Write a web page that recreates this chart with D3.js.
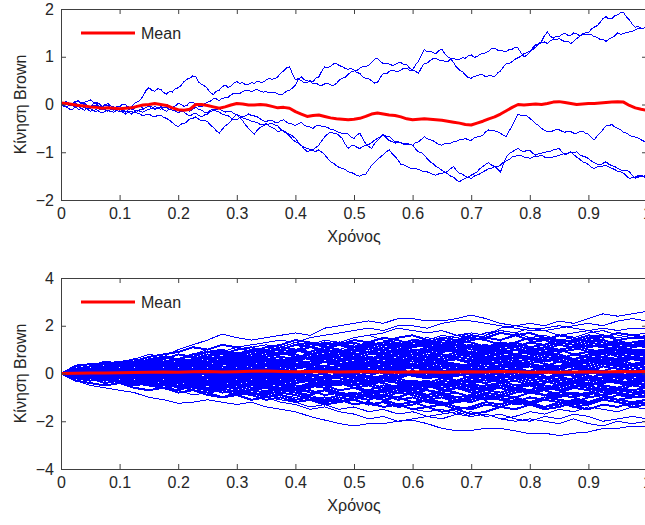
<!DOCTYPE html>
<html>
<head>
<meta charset="utf-8">
<script src="https://cdn.jsdelivr.net/npm/d3@7"></script>
<style>
  body { margin: 0; background: #fff; }
  text { font-family: "Liberation Sans", Arial, sans-serif; fill: #262626; }
</style>
</head>
<body>
<svg id="chart" width="645" height="525"></svg>
<script>
// x ticks shared by both panels
const xTicks = [0, 0.1, 0.2, 0.3, 0.4, 0.5, 0.6, 0.7, 0.8, 0.9, 1];
const xTickLabels = ["0", "0.1", "0.2", "0.3", "0.4", "0.5", "0.6", "0.7", "0.8", "0.9", "1"];
const topYTicks = [-2, -1, 0, 1, 2];
const bottomYTicks = [-4, -2, 0, 2, 4];

const topPathA = [0, 0.05, 0.06, 0.01, 0.02, 0.07, 0.08, 0.02, 0.03, -0.03, -0.04, 0.01, 0.02, -0.04, -0.06, 0.0, -0.02, -0.08, -0.1, -0.05,
  -0.05, 0.01, 0.0, -0.05, -0.06, 0.02, 0.05, 0.09, 0.18, 0.29, 0.35, 0.3, 0.28, 0.33, 0.32, 0.25, 0.22, 0.27, 0.26, 0.33,
  0.35, 0.4, 0.48, 0.53, 0.55, 0.6, 0.58, 0.47, 0.42, 0.39, 0.33, 0.25, 0.21, 0.28, 0.3, 0.37, 0.41, 0.36, 0.38, 0.45,
  0.48, 0.44, 0.46, 0.41, 0.42, 0.46, 0.44, 0.49, 0.47, 0.47, 0.51, 0.55, 0.53, 0.54, 0.58, 0.66, 0.7, 0.77, 0.79, 0.64,
  0.52, 0.54, 0.5, 0.45, 0.46, 0.5, 0.48, 0.55, 0.58, 0.7, 0.79, 0.77, 0.8, 0.85, 0.86, 0.81, 0.8, 0.75, 0.74, 0.75,
  0.72, 0.67, 0.65, 0.58, 0.55, 0.54, 0.5, 0.45, 0.46, 0.57, 0.65, 0.64, 0.69, 0.72, 0.7, 0.69, 0.72, 0.76, 0.76, 0.71,
  0.72, 0.83, 0.9, 1.04, 1.15, 1.1, 1.12, 1.08, 1.07, 1.13, 1.16, 1.06, 1.0, 0.96, 0.88, 0.78, 0.72, 0.69, 0.62, 0.56,
  0.55, 0.59, 0.6, 0.63, 0.62, 0.58, 0.6, 0.6, 0.58, 0.66, 0.7, 0.79, 0.85, 0.86, 0.9, 0.95, 0.98, 1.01, 1.07, 1.08,
  1.12, 1.15, 1.2, 1.28, 1.32, 1.44, 1.52, 1.43, 1.39, 1.43, 1.42, 1.47, 1.49, 1.45, 1.45, 1.5, 1.48, 1.44, 1.46, 1.5,
  1.5, 1.58, 1.62, 1.65, 1.72, 1.8, 1.84, 1.79, 1.8, 1.86, 1.88, 1.92, 1.93, 1.83, 1.77, 1.68, 1.62, 1.63, 1.6, 1.6,
  1.64];
const topPathB = [0, -0.04, -0.05, 0.0, 0.03, 0.03, -0.02, 0.04, 0.05, 0.06, 0.1, 0.05, 0.04, 0.02, -0.04, -0.03, 0.02, -0.03, -0.05, -0.07,
  -0.12, -0.1, -0.06, -0.04, -0.1, -0.08, -0.02, -0.03, -0.08, -0.07, -0.03, -0.05, -0.1, -0.09, -0.05, -0.01, 0.0, -0.02, -0.06, -0.03,
  0.02, 0.0, -0.04, -0.02, 0.05, 0.05, 0.0, -0.04, -0.05, 0.02, 0.05, 0.07, 0.12, 0.12, 0.08, 0.13, 0.14, 0.15, 0.2, 0.24,
  0.24, 0.23, 0.27, 0.3, 0.3, 0.27, 0.3, 0.31, 0.28, 0.26, 0.27, 0.24, 0.25, 0.25, 0.22, 0.2, 0.23, 0.28, 0.3, 0.34,
  0.41, 0.52, 0.58, 0.52, 0.5, 0.48, 0.44, 0.45, 0.41, 0.4, 0.43, 0.44, 0.41, 0.4, 0.44, 0.51, 0.55, 0.57, 0.63, 0.68,
  0.7, 0.71, 0.76, 0.8, 0.79, 0.82, 0.88, 0.95, 0.97, 0.9, 0.86, 0.87, 0.85, 0.82, 0.83, 0.87, 0.88, 0.83, 0.84, 0.76,
  0.72, 0.7, 0.65, 0.77, 0.86, 0.87, 0.92, 0.96, 0.97, 0.93, 0.93, 0.9, 0.9, 0.95, 0.97, 0.94, 0.95, 0.98, 0.97, 1.02,
  1.04, 0.99, 1.0, 1.05, 1.07, 1.08, 1.12, 1.17, 1.18, 1.14, 1.14, 1.12, 1.11, 1.15, 1.16, 1.2, 1.18, 1.08, 1.0, 1.03,
  1.1, 1.19, 1.25, 1.26, 1.3, 1.31, 1.28, 1.33, 1.36, 1.35, 1.39, 1.34, 1.32, 1.32, 1.28, 1.32, 1.38, 1.42, 1.49, 1.47,
  1.47, 1.46, 1.42, 1.41, 1.36, 1.37, 1.32, 1.37, 1.4, 1.44, 1.5, 1.47, 1.48, 1.51, 1.52, 1.53, 1.56, 1.59, 1.6, 1.6,
  1.63];
const topPathC = [0, -0.01, -0.06, -0.1, -0.1, -0.05, -0.04, -0.09, -0.12, -0.08, -0.08, -0.13, -0.15, -0.11, -0.1, -0.09, -0.05, -0.1, -0.12, -0.09,
  -0.08, -0.12, -0.14, -0.15, -0.2, -0.15, -0.12, -0.15, -0.16, -0.12, -0.1, -0.08, -0.04, -0.08, -0.1, -0.06, -0.06, -0.1, -0.12, -0.13,
  -0.18, -0.13, -0.1, -0.13, -0.14, -0.09, -0.06, -0.1, -0.12, -0.16, -0.18, -0.12, -0.1, -0.14, -0.16, -0.2, -0.22, -0.23, -0.28, -0.31,
  -0.32, -0.27, -0.25, -0.24, -0.2, -0.23, -0.24, -0.26, -0.3, -0.34, -0.36, -0.33, -0.33, -0.37, -0.38, -0.34, -0.32, -0.37, -0.4, -0.41,
  -0.44, -0.4, -0.38, -0.43, -0.46, -0.47, -0.5, -0.45, -0.43, -0.46, -0.46, -0.48, -0.52, -0.53, -0.56, -0.59, -0.6, -0.6, -0.62, -0.68,
  -0.71, -0.64, -0.6, -0.72, -0.82, -0.88, -0.92, -0.82, -0.75, -0.69, -0.62, -0.7, -0.76, -0.77, -0.81, -0.79, -0.8, -0.83, -0.84, -0.83,
  -0.85, -0.8, -0.78, -0.73, -0.67, -0.72, -0.74, -0.76, -0.8, -0.84, -0.85, -0.82, -0.82, -0.81, -0.78, -0.77, -0.74, -0.74, -0.71, -0.74,
  -0.75, -0.7, -0.68, -0.67, -0.64, -0.57, -0.53, -0.55, -0.55, -0.57, -0.6, -0.65, -0.67, -0.55, -0.45, -0.31, -0.2, -0.23, -0.22, -0.24,
  -0.29, -0.34, -0.4, -0.44, -0.5, -0.54, -0.57, -0.57, -0.55, -0.52, -0.53, -0.56, -0.58, -0.56, -0.57, -0.6, -0.6, -0.57, -0.56, -0.6,
  -0.62, -0.69, -0.74, -0.66, -0.6, -0.52, -0.45, -0.44, -0.42, -0.47, -0.5, -0.53, -0.58, -0.6, -0.64, -0.67, -0.68, -0.7, -0.74, -0.77,
  -0.81];
const topPathD = [0, 0.03, 0.04, 0.0, -0.03, -0.05, -0.1, -0.09, -0.06, -0.1, -0.14, -0.13, -0.1, -0.15, -0.18, -0.14, -0.12, -0.15, -0.16, -0.12,
  -0.1, -0.14, -0.16, -0.11, -0.08, -0.12, -0.14, -0.11, -0.1, -0.06, -0.04, -0.08, -0.1, -0.07, -0.06, -0.11, -0.14, -0.1, -0.08, -0.1,
  -0.1, -0.14, -0.16, -0.21, -0.24, -0.2, -0.18, -0.23, -0.26, -0.22, -0.2, -0.15, -0.12, -0.11, -0.08, -0.13, -0.16, -0.14, -0.14, -0.19,
  -0.22, -0.24, -0.28, -0.3, -0.32, -0.35, -0.36, -0.38, -0.42, -0.41, -0.43, -0.41, -0.4, -0.43, -0.45, -0.52, -0.57, -0.6, -0.66, -0.73,
  -0.78, -0.81, -0.86, -0.9, -0.92, -0.94, -0.95, -0.9, -0.85, -0.76, -0.68, -0.62, -0.58, -0.6, -0.6, -0.66, -0.71, -0.83, -0.92, -0.87,
  -0.85, -0.9, -0.92, -0.88, -0.86, -0.84, -0.8, -0.75, -0.71, -0.68, -0.64, -0.66, -0.66, -0.73, -0.78, -0.78, -0.8, -0.82, -0.82, -0.83,
  -0.85, -0.93, -0.99, -1.01, -1.06, -1.14, -1.2, -1.24, -1.3, -1.33, -1.38, -1.42, -1.45, -1.5, -1.52, -1.58, -1.62, -1.57, -1.55, -1.52,
  -1.48, -1.45, -1.41, -1.34, -1.3, -1.25, -1.22, -1.27, -1.3, -1.35, -1.41, -1.25, -1.1, -1.03, -0.99, -0.95, -0.92, -0.97, -0.99, -0.96,
  -0.96, -1.02, -1.06, -1.03, -1.02, -1.0, -0.99, -0.98, -0.95, -0.94, -0.92, -1.0, -1.06, -1.02, -1.0, -1.01, -0.99, -1.05, -1.08, -1.1,
  -1.13, -1.18, -1.22, -1.25, -1.27, -1.23, -1.2, -1.25, -1.28, -1.3, -1.34, -1.37, -1.38, -1.38, -1.41, -1.49, -1.55, -1.52, -1.5, -1.5,
  -1.48];
const topPathE = [0, -0.03, -0.04, -0.02, 0.02, 0.05, 0.06, 0.02, 0.0, -0.04, -0.06, -0.02, -0.02, -0.06, -0.08, -0.1, -0.14, -0.1, -0.08, -0.13,
  -0.15, -0.16, -0.2, -0.16, -0.14, -0.17, -0.18, -0.2, -0.24, -0.21, -0.2, -0.24, -0.26, -0.23, -0.22, -0.27, -0.29, -0.33, -0.38, -0.43,
  -0.46, -0.41, -0.4, -0.36, -0.3, -0.29, -0.26, -0.31, -0.34, -0.33, -0.36, -0.43, -0.48, -0.55, -0.6, -0.52, -0.45, -0.41, -0.35, -0.26,
  -0.2, -0.28, -0.34, -0.43, -0.5, -0.57, -0.62, -0.54, -0.48, -0.45, -0.4, -0.45, -0.48, -0.51, -0.57, -0.55, -0.55, -0.59, -0.62, -0.66,
  -0.71, -0.79, -0.85, -0.93, -0.99, -0.96, -0.97, -0.98, -0.95, -1.0, -1.05, -1.13, -1.2, -1.23, -1.28, -1.32, -1.34, -1.36, -1.41, -1.42,
  -1.45, -1.49, -1.5, -1.47, -1.46, -1.37, -1.27, -1.22, -1.15, -1.1, -1.05, -0.99, -0.95, -1.03, -1.09, -1.16, -1.25, -1.26, -1.3, -1.33,
  -1.34, -1.34, -1.36, -1.39, -1.41, -1.41, -1.44, -1.47, -1.48, -1.45, -1.44, -1.43, -1.4, -1.34, -1.3, -1.38, -1.44, -1.46, -1.5, -1.53,
  -1.55, -1.5, -1.48, -1.45, -1.41, -1.38, -1.34, -1.33, -1.3, -1.3, -1.27, -1.21, -1.18, -1.15, -1.1, -1.09, -1.06, -1.07, -1.1, -1.1,
  -1.13, -1.1, -1.08, -1.08, -1.06, -1.1, -1.12, -1.1, -1.1, -1.09, -1.06, -1.05, -1.02, -1.02, -0.99, -1.05, -1.1, -1.14, -1.2, -1.22,
  -1.26, -1.31, -1.34, -1.31, -1.3, -1.29, -1.27, -1.31, -1.34, -1.36, -1.4, -1.41, -1.44, -1.5, -1.55, -1.53, -1.52, -1.49, -1.48, -1.52,
  -1.55];
// mean of the top panel, sampled every 0.01
const topMean = [0.03, 0.02, 0.0, -0.02, -0.03, -0.05, -0.06, -0.08, -0.07, -0.08,
  -0.09, -0.08, -0.07, -0.04, -0.01, 0.0, 0.02, 0.0, -0.02, -0.07,
  -0.11, -0.12, -0.1, 0.0, 0.0, -0.02, -0.05, -0.08, -0.05, -0.01,
  0.02, 0.01, -0.01, -0.01, 0.0, -0.01, -0.04, -0.07, -0.06, -0.08,
  -0.15, -0.2, -0.25, -0.23, -0.22, -0.25, -0.28, -0.3, -0.31, -0.32,
  -0.31, -0.29, -0.25, -0.2, -0.18, -0.2, -0.22, -0.23, -0.26, -0.3,
  -0.32, -0.31, -0.3, -0.31, -0.32, -0.33, -0.35, -0.37, -0.39, -0.42,
  -0.43, -0.39, -0.35, -0.3, -0.26, -0.2, -0.13, -0.06, 0.0, -0.01,
  0.0, 0.01, 0.0, 0.02, 0.05, 0.06, 0.04, 0.02, 0.0, 0.01,
  0.02, 0.02, 0.03, 0.04, 0.05, 0.06, 0.05, -0.02, -0.07, -0.1,
  -0.12];

// bottom panel: many paths, sampled every 0.025
const bottomPaths = [
  [0, 0.1, 0.2, 0.1, 0.3, 0.2, 0.4, 0.3, 0.5, 0.6, 0.8, 0.7, 0.6, 0.8, 0.9, 0.8, 1.0, 1.1, 0.9, 1.0, 1.2, 1.1, 1.3, 1.2, 1.4, 1.5, 1.4, 1.6, 1.7, 1.6, 1.9, 2.0, 2.1, 2.0, 2.2, 2.1, 2.3, 2.5, 2.4, 2.5, 2.6],
  [0, 0.35, 0.4, 0.3, 0.5, 0.6, 0.8, 0.7, 1.0, 1.2, 1.4, 1.65, 1.5, 1.4, 1.5, 1.6, 1.7, 1.6, 1.9, 2.0, 2.1, 2.2, 2.1, 2.3, 2.3, 2.2, 2.2, 2.3, 2.45, 2.3, 2.1, 2.0, 1.9, 1.9, 2.0, 1.9, 1.8, 1.9, 1.8, 1.9, 1.9],
  [0, -0.1, 0.1, 0.2, 0.3, 0.4, 0.6, 0.7, 0.6, 0.8, 1.0, 0.9, 1.1, 1.2, 1.3, 1.4, 1.3, 1.5, 1.6, 1.7, 1.8, 1.9, 1.8, 2.0, 2.0, 1.9, 2.1, 2.2, 2.2, 2.1, 2.0, 1.9, 1.8, 1.8, 1.9, 2.0, 2.1, 2.0, 2.2, 2.3, 2.2],
  [0, 0.1, 0.0, 0.2, 0.1, 0.3, 0.2, 0.4, 0.5, 0.4, 0.6, 0.7, 0.9, 0.8, 1.0, 1.1, 1.0, 1.2, 1.4, 1.3, 1.5, 1.6, 1.7, 1.9, 1.8, 1.7, 1.8, 1.6, 1.5, 1.7, 1.8, 1.7, 1.9, 1.8, 1.6, 1.7, 1.8, 1.6, 1.5, 1.6, 1.7],
  [0, 0.2, 0.3, 0.5, 0.4, 0.6, 0.5, 0.7, 0.6, 0.8, 0.9, 0.8, 0.7, 0.9, 1.1, 1.2, 1.4, 1.3, 1.2, 1.3, 1.1, 1.2, 1.3, 1.5, 1.6, 1.4, 1.3, 1.2, 1.4, 1.5, 1.4, 1.6, 1.7, 1.5, 1.4, 1.3, 1.5, 1.6, 1.4, 1.5, 1.5],
  [0, -0.1, 0.0, 0.1, 0.0, 0.2, 0.1, 0.3, 0.2, 0.1, 0.3, 0.4, 0.3, 0.5, 0.6, 0.5, 0.7, 0.8, 0.7, 0.9, 1.0, 0.9, 1.1, 1.0, 1.2, 1.3, 1.2, 1.4, 1.3, 1.1, 1.2, 1.3, 1.5, 1.4, 1.6, 1.5, 1.3, 1.4, 1.2, 1.3, 1.4],
  [0, 0.1, 0.3, 0.2, 0.4, 0.5, 0.7, 0.8, 0.9, 1.1, 1.0, 1.2, 1.1, 0.9, 1.0, 0.8, 0.9, 1.1, 1.0, 1.2, 1.3, 1.1, 1.0, 0.9, 1.1, 1.2, 1.0, 0.9, 1.1, 1.0, 1.2, 1.1, 1.3, 1.4, 1.2, 1.1, 1.3, 1.2, 1.4, 1.2, 1.3],
  [0, 0.1, 0.0, -0.1, 0.0, -0.2, -0.1, 0.1, 0.2, 0.1, 0.3, 0.2, 0.4, 0.5, 0.4, 0.6, 0.5, 0.7, 0.6, 0.8, 0.7, 0.9, 0.8, 1.0, 0.9, 1.1, 1.0, 0.9, 0.8, 1.0, 1.1, 1.2, 1.0, 1.1, 1.3, 1.2, 1.4, 1.3, 1.1, 1.2, 1.2],
  [0, 0.1, 0.2, 0.4, 0.3, 0.2, 0.4, 0.3, 0.5, 0.6, 0.5, 0.7, 0.8, 0.6, 0.7, 0.9, 0.8, 0.6, 0.7, 0.5, 0.6, 0.8, 0.9, 0.7, 0.8, 1.0, 0.9, 1.1, 1.2, 1.0, 0.9, 0.8, 1.0, 1.1, 0.9, 1.0, 1.2, 1.1, 1.0, 1.2, 1.1],
  [0, -0.1, -0.2, -0.1, 0.0, 0.2, 0.1, 0.0, 0.2, 0.3, 0.5, 0.4, 0.3, 0.1, 0.2, 0.4, 0.3, 0.5, 0.6, 0.4, 0.5, 0.7, 0.6, 0.8, 0.7, 0.5, 0.6, 0.8, 0.9, 0.7, 0.8, 1.0, 0.9, 0.8, 1.0, 1.1, 0.9, 0.8, 1.0, 0.9, 1.0],
  [0, 0.1, 0.0, 0.2, 0.3, 0.1, 0.2, 0.0, 0.1, -0.1, 0.0, 0.2, 0.3, 0.4, 0.6, 0.7, 0.6, 0.8, 0.9, 1.0, 0.8, 0.9, 0.7, 0.6, 0.8, 0.7, 0.9, 1.0, 1.1, 0.9, 0.8, 0.6, 0.7, 0.9, 1.0, 0.8, 0.7, 0.9, 1.0, 0.8, 0.9],
  [0, 0.2, 0.1, 0.3, 0.5, 0.4, 0.6, 0.5, 0.3, 0.4, 0.2, 0.3, 0.1, 0.2, 0.4, 0.5, 0.7, 0.6, 0.8, 0.7, 0.9, 1.1, 1.0, 1.2, 1.1, 1.3, 1.2, 1.0, 0.9, 1.1, 1.0, 0.8, 0.7, 0.9, 0.8, 0.6, 0.7, 0.9, 0.8, 0.7, 0.8],
  [0, -0.1, 0.0, -0.2, -0.1, -0.3, -0.2, -0.1, 0.1, 0.0, 0.2, 0.1, 0.3, 0.2, 0.4, 0.3, 0.2, 0.4, 0.5, 0.3, 0.4, 0.6, 0.5, 0.4, 0.6, 0.7, 0.5, 0.6, 0.4, 0.5, 0.7, 0.8, 0.6, 0.5, 0.7, 0.6, 0.8, 0.9, 0.7, 0.6, 0.7],
  [0, 0.1, 0.2, 0.1, 0.3, 0.2, 0.0, 0.1, -0.1, 0.0, 0.1, 0.3, 0.2, 0.4, 0.3, 0.5, 0.4, 0.2, 0.3, 0.1, 0.2, 0.0, 0.1, 0.3, 0.2, 0.4, 0.5, 0.3, 0.4, 0.6, 0.5, 0.7, 0.6, 0.8, 0.7, 0.5, 0.4, 0.6, 0.5, 0.7, 0.6],
  [0, 0.0, -0.1, 0.1, 0.0, 0.2, 0.3, 0.2, 0.4, 0.6, 0.5, 0.7, 0.6, 0.8, 0.9, 0.7, 0.6, 0.8, 0.7, 0.5, 0.6, 0.4, 0.3, 0.5, 0.4, 0.2, 0.3, 0.1, 0.2, 0.4, 0.3, 0.5, 0.6, 0.4, 0.3, 0.5, 0.6, 0.4, 0.5, 0.6, 0.5],
  [0, -0.1, -0.3, -0.2, -0.4, -0.3, -0.1, -0.2, 0.0, -0.1, 0.1, 0.0, -0.2, -0.1, 0.1, 0.2, 0.0, 0.1, 0.3, 0.2, 0.4, 0.3, 0.5, 0.4, 0.2, 0.3, 0.1, 0.2, 0.0, 0.1, 0.3, 0.2, 0.4, 0.3, 0.5, 0.4, 0.6, 0.5, 0.3, 0.4, 0.4],
  [0, 0.1, 0.3, 0.4, 0.2, 0.3, 0.1, 0.2, 0.4, 0.3, 0.1, 0.0, 0.2, 0.1, -0.1, 0.0, 0.2, 0.3, 0.1, 0.2, 0.0, -0.1, 0.1, 0.2, 0.4, 0.3, 0.5, 0.4, 0.2, 0.1, 0.3, 0.2, 0.0, 0.1, 0.3, 0.4, 0.2, 0.1, 0.3, 0.2, 0.3],
  [0, 0.1, 0.0, -0.1, 0.1, 0.0, -0.2, -0.3, -0.1, -0.2, -0.4, -0.3, -0.5, -0.4, -0.2, -0.3, -0.1, 0.0, -0.2, -0.1, 0.1, 0.0, 0.2, 0.1, 0.3, 0.5, 0.4, 0.2, 0.3, 0.1, 0.0, 0.2, 0.1, 0.3, 0.2, 0.0, 0.1, 0.3, 0.2, 0.1, 0.2],
  [0, 0.3, 0.4, 0.4, 0.5, 0.4, 0.6, 0.7, 0.5, 0.6, 0.8, 0.7, 0.5, 0.6, 0.4, 0.5, 0.3, 0.4, 0.2, 0.3, 0.1, 0.2, 0.0, -0.1, 0.1, 0.0, -0.2, -0.1, 0.1, 0.0, 0.2, 0.1, -0.1, 0.0, 0.2, 0.3, 0.1, 0.0, -0.1, 0.0, 0.1],
  [0, -0.1, 0.0, -0.2, -0.1, 0.1, 0.0, 0.2, 0.1, 0.3, 0.2, 0.0, 0.1, -0.1, -0.3, -0.2, -0.4, -0.3, -0.5, -0.4, -0.2, -0.3, -0.1, -0.2, 0.0, -0.1, 0.1, 0.0, -0.2, -0.1, -0.3, -0.2, 0.0, 0.1, -0.1, 0.0, 0.2, 0.1, -0.1, 0.0, 0.0],
  [0, 0.1, 0.2, 0.1, 0.3, 0.2, 0.4, 0.3, 0.1, 0.2, 0.0, 0.1, -0.1, 0.0, 0.2, 0.1, 0.3, 0.4, 0.6, 0.5, 0.7, 0.6, 0.4, 0.5, 0.3, 0.2, 0.4, 0.3, 0.1, 0.0, 0.2, 0.1, -0.1, -0.2, 0.0, -0.1, -0.3, -0.2, 0.0, -0.1, -0.1],
  [0, -0.1, -0.2, -0.1, -0.3, -0.2, -0.4, -0.5, -0.3, -0.4, -0.2, -0.3, -0.1, -0.2, -0.4, -0.5, -0.7, -0.6, -0.4, -0.5, -0.3, -0.4, -0.6, -0.5, -0.7, -0.6, -0.4, -0.5, -0.3, -0.4, -0.2, -0.1, -0.3, -0.2, -0.4, -0.3, -0.1, -0.2, -0.3, -0.1, -0.2],
  [0, 0.0, 0.1, 0.0, -0.1, 0.0, 0.2, 0.1, 0.3, 0.2, 0.4, 0.3, 0.1, 0.0, -0.2, -0.1, 0.0, -0.2, -0.3, -0.1, -0.2, -0.4, -0.3, -0.1, 0.0, -0.2, -0.1, -0.3, -0.4, -0.2, -0.3, -0.5, -0.4, -0.6, -0.5, -0.3, -0.4, -0.2, -0.3, -0.4, -0.3],
  [0, -0.1, 0.0, -0.2, -0.1, -0.3, -0.2, 0.0, -0.1, 0.1, 0.0, 0.2, 0.1, 0.3, 0.2, 0.0, -0.1, 0.1, 0.0, -0.2, -0.3, -0.1, -0.2, -0.4, -0.3, -0.5, -0.6, -0.4, -0.5, -0.7, -0.6, -0.8, -0.7, -0.5, -0.6, -0.4, -0.5, -0.3, -0.4, -0.5, -0.4],
  [0, -0.2, -0.3, -0.2, -0.4, -0.5, -0.4, -0.6, -0.7, -0.5, -0.6, -0.8, -0.7, -0.9, -0.8, -0.6, -0.7, -0.5, -0.6, -0.4, -0.5, -0.3, -0.4, -0.6, -0.5, -0.7, -0.8, -0.6, -0.7, -0.5, -0.4, -0.6, -0.5, -0.7, -0.6, -0.4, -0.5, -0.7, -0.6, -0.4, -0.5],
  [0, 0.1, 0.0, 0.2, 0.1, -0.1, 0.0, -0.2, -0.1, -0.3, -0.2, -0.4, -0.3, -0.5, -0.4, -0.2, -0.3, -0.1, -0.2, 0.0, -0.1, -0.3, -0.2, -0.4, -0.3, -0.5, -0.4, -0.6, -0.5, -0.7, -0.8, -0.6, -0.7, -0.9, -0.8, -0.6, -0.7, -0.5, -0.6, -0.7, -0.6],
  [0, -0.1, -0.3, -0.2, -0.4, -0.3, -0.5, -0.4, -0.6, -0.5, -0.3, -0.4, -0.2, -0.3, -0.1, -0.2, -0.4, -0.3, -0.5, -0.7, -0.6, -0.8, -0.9, -0.7, -0.8, -1.0, -0.9, -1.1, -1.0, -0.8, -0.9, -0.7, -0.8, -0.6, -0.7, -0.9, -0.8, -0.6, -0.7, -0.8, -0.7],
  [0, 0.1, -0.1, 0.0, -0.2, -0.1, -0.3, -0.2, -0.1, -0.3, -0.4, -0.6, -0.5, -0.7, -0.6, -0.8, -0.9, -1.1, -1.0, -1.2, -1.1, -0.9, -1.0, -0.8, -0.9, -1.1, -1.0, -1.2, -1.1, -0.9, -1.0, -0.8, -0.7, -0.9, -1.0, -0.8, -0.9, -0.7, -0.8, -0.9, -0.8],
  [0, -0.1, 0.0, -0.1, 0.1, 0.0, 0.1, -0.1, -0.2, -0.1, -0.3, -0.2, -0.4, -0.3, -0.5, -0.4, -0.6, -0.5, -0.3, -0.4, -0.6, -0.7, -0.5, -0.6, -0.8, -0.7, -0.9, -0.8, -1.0, -1.1, -0.9, -1.0, -1.2, -1.1, -0.9, -1.0, -0.8, -0.9, -1.1, -1.0, -0.9],
  [0, -0.3, -0.4, -0.5, -0.4, -0.6, -0.7, -0.6, -0.8, -0.7, -0.9, -1.0, -0.8, -0.9, -1.1, -1.0, -1.2, -1.1, -1.3, -1.2, -1.0, -1.1, -0.9, -1.0, -1.2, -1.1, -1.3, -1.2, -1.0, -0.9, -1.1, -1.2, -1.0, -1.1, -0.9, -1.0, -1.2, -1.1, -0.9, -1.0, -1.0],
  [0, 0.0, -0.1, -0.2, -0.1, -0.3, -0.2, -0.4, -0.3, -0.5, -0.4, -0.6, -0.5, -0.4, -0.6, -0.7, -0.6, -0.8, -0.7, -0.9, -0.8, -1.0, -1.1, -1.3, -1.2, -1.4, -1.3, -1.5, -1.4, -1.2, -1.3, -1.1, -1.2, -1.0, -1.1, -1.3, -1.2, -1.0, -1.1, -1.2, -1.1],
  [0, -0.1, -0.2, -0.4, -0.3, -0.5, -0.4, -0.6, -0.5, -0.7, -0.8, -0.7, -0.9, -0.8, -1.0, -0.9, -1.1, -1.0, -1.2, -1.1, -1.3, -1.2, -1.4, -1.3, -1.5, -1.4, -1.6, -1.5, -1.7, -1.6, -1.4, -1.5, -1.3, -1.4, -1.2, -1.4, -1.5, -1.3, -1.4, -1.2, -1.3],
  [0, -0.1, 0.0, -0.2, -0.3, -0.2, -0.4, -0.3, -0.5, -0.4, -0.6, -0.5, -0.7, -0.8, -1.0, -1.1, -1.2, -1.4, -1.3, -1.5, -1.4, -1.6, -1.5, -1.7, -1.6, -1.8, -1.7, -1.6, -1.8, -1.7, -1.9, -1.8, -1.6, -1.7, -1.5, -1.6, -1.4, -1.5, -1.6, -1.4, -1.5],
  [0, -0.1, -0.3, -0.2, -0.4, -0.5, -0.4, -0.6, -0.7, -0.9, -0.8, -1.0, -0.9, -1.1, -1.0, -1.2, -1.3, -1.5, -1.4, -1.6, -1.7, -1.9, -1.8, -2.0, -1.9, -1.8, -1.9, -1.7, -1.8, -1.7, -1.9, -2.0, -1.9, -2.0, -2.1, -1.9, -2.1, -2.2, -2.0, -2.1, -2.0],
  [0, -0.3, -0.5, -0.6, -0.7, -0.8, -1.0, -1.1, -1.25, -1.2, -1.1, -1.2, -1.3, -1.2, -1.4, -1.5, -1.6, -1.8, -1.95, -2.1, -2.2, -2.1, -2.1, -2.0, -1.96, -2.1, -2.3, -2.4, -2.38, -2.3, -2.3, -2.4, -2.52, -2.5, -2.6, -2.5, -2.45, -2.3, -2.3, -2.2, -2.2],
  [0, 0.1, 0.0, -0.1, -0.3, -0.2, -0.4, -0.5, -0.4, -0.6, -0.5, -0.7, -0.6, -0.8, -0.7, -0.9, -1.0, -0.9, -1.1, -1.2, -1.1, -1.3, -1.4, -1.3, -1.5, -1.6, -1.5, -1.7, -1.6, -1.8, -1.7, -1.9, -2.0, -1.8, -1.9, -1.7, -1.8, -2.0, -1.9, -1.8, -1.9],
  [0, 0.1, 0.2, 0.3, 0.2, 0.4, 0.5, 0.3, 0.4, 0.6, 0.7, 0.9, 0.8, 1.0, 0.9, 1.1, 1.0, 0.8, 0.9, 0.7, 0.8, 0.6, 0.7, 0.5, 0.6, 0.4, 0.5, 0.3, 0.4, 0.2, 0.3, 0.5, 0.4, 0.6, 0.5, 0.3, 0.2, 0.4, 0.3, 0.2, 0.3],
  [0, -0.1, 0.0, 0.1, 0.0, -0.1, -0.2, -0.1, -0.3, -0.2, -0.4, -0.3, -0.2, 0.0, -0.1, 0.1, 0.0, 0.2, 0.1, 0.0, -0.2, -0.1, -0.3, -0.2, -0.4, -0.3, -0.5, -0.4, -0.2, -0.3, -0.1, -0.2, -0.4, -0.3, -0.5, -0.4, -0.2, -0.3, -0.1, -0.2, -0.3],
  [0, 0.1, -0.1, 0.0, 0.1, 0.3, 0.2, 0.4, 0.3, 0.5, 0.4, 0.6, 0.5, 0.7, 0.6, 0.5, 0.3, 0.4, 0.2, 0.3, 0.5, 0.4, 0.6, 0.5, 0.7, 0.9, 0.8, 0.7, 0.9, 0.8, 1.0, 1.1, 0.9, 1.0, 1.2, 1.1, 0.9, 1.0, 1.1, 0.9, 1.0],
  [0, 0.0, -0.2, -0.1, -0.2, -0.4, -0.3, -0.2, -0.4, -0.3, -0.5, -0.4, -0.6, -0.5, -0.3, -0.4, -0.2, -0.3, -0.5, -0.4, -0.6, -0.5, -0.7, -0.6, -0.4, -0.5, -0.3, -0.4, -0.6, -0.7, -0.5, -0.6, -0.8, -0.7, -0.9, -0.8, -1.0, -0.9, -0.7, -0.8, -0.8],
  [0, -0.1, 0.1, 0.2, 0.0, 0.1, -0.1, 0.0, 0.2, 0.1, 0.0, -0.2, -0.1, -0.3, -0.2, 0.0, -0.1, 0.1, 0.0, 0.2, 0.3, 0.5, 0.4, 0.6, 0.5, 0.7, 0.6, 0.8, 0.7, 0.5, 0.6, 0.4, 0.5, 0.7, 0.6, 0.8, 0.7, 0.5, 0.6, 0.7, 0.6],
  [0, 0.1, 0.3, 0.5, 0.4, 0.5, 0.3, 0.4, 0.6, 0.7, 0.6, 0.8, 1.0, 1.1, 1.2, 1.1, 1.3, 1.2, 1.4, 1.3, 1.5, 1.6, 1.4, 1.3, 1.2, 1.4, 1.6, 1.5, 1.7, 1.6, 1.8, 1.7, 1.5, 1.6, 1.4, 1.5, 1.7, 1.8, 1.6, 1.5, 1.6],
  [0, -0.1, 0.0, 0.1, -0.1, -0.2, 0.0, -0.1, -0.3, -0.2, -0.4, -0.5, -0.4, -0.6, -0.5, -0.7, -0.8, -0.7, -0.9, -0.8, -1.0, -0.9, -0.7, -0.8, -0.6, -0.7, -0.9, -1.0, -0.9, -1.1, -1.0, -1.2, -1.3, -1.1, -1.2, -1.4, -1.3, -1.1, -1.2, -1.3, -1.2],
  [0, 0.1, 0.0, 0.2, 0.3, 0.2, 0.4, 0.3, 0.2, 0.0, 0.1, -0.1, 0.0, 0.2, 0.3, 0.2, 0.4, 0.3, 0.5, 0.4, 0.2, 0.1, 0.3, 0.2, 0.0, 0.1, -0.1, 0.0, -0.2, -0.1, 0.1, 0.0, -0.2, -0.1, -0.3, -0.2, 0.0, 0.1, -0.1, 0.0, 0.0],
  [0, 0.1, 0.2, 0.1, 0.2, 0.4, 0.3, 0.5, 0.6, 0.5, 0.7, 0.6, 0.8, 0.7, 0.9, 1.0, 0.9, 1.1, 1.0, 1.2, 1.1, 1.3, 1.2, 1.1, 1.3, 1.4, 1.2, 1.3, 1.5, 1.4, 1.2, 1.3, 1.1, 1.2, 1.4, 1.3, 1.5, 1.4, 1.2, 1.3, 1.3],
  [0, -0.1, 0.1, 0.0, 0.2, 0.1, 0.3, 0.4, 0.3, 0.5, 0.4, 0.2, 0.3, 0.5, 0.6, 0.4, 0.5, 0.7, 0.8, 0.6, 0.7, 0.9, 1.0, 0.8, 0.9, 0.7, 0.8, 0.6, 0.5, 0.7, 0.6, 0.8, 0.7, 0.5, 0.6, 0.4, 0.5, 0.7, 0.6, 0.4, 0.5],
  [0, 0.1, 0.0, -0.1, -0.2, -0.1, -0.3, -0.2, -0.4, -0.3, -0.1, -0.2, 0.0, -0.1, -0.3, -0.4, -0.2, -0.3, -0.1, -0.2, -0.4, -0.5, -0.3, -0.4, -0.6, -0.5, -0.7, -0.6, -0.8, -0.7, -0.5, -0.6, -0.4, -0.5, -0.7, -0.6, -0.4, -0.5, -0.6, -0.4, -0.5],
  [0, 0.0, 0.1, 0.3, 0.2, 0.3, 0.5, 0.4, 0.6, 0.5, 0.3, 0.4, 0.6, 0.5, 0.7, 0.8, 1.0, 0.9, 1.1, 1.0, 0.8, 0.9, 0.7, 0.8, 1.0, 0.9, 1.1, 1.0, 0.8, 0.7, 0.9, 1.0, 0.8, 0.9, 0.7, 0.6, 0.8, 0.7, 0.9, 0.8, 0.8],
  [0, -0.1, -0.2, -0.3, -0.2, -0.4, -0.5, -0.4, -0.6, -0.5, -0.7, -0.6, -0.8, -0.7, -0.5, -0.6, -0.8, -0.9, -0.7, -0.8, -1.0, -0.9, -1.1, -1.0, -0.8, -0.9, -0.7, -0.8, -1.0, -0.9, -1.1, -1.0, -0.8, -0.9, -1.1, -1.2, -1.0, -0.9, -0.8, -1.0, -0.9],
  [0, 0.1, 0.0, 0.1, -0.1, 0.0, 0.1, 0.3, 0.2, 0.4, 0.3, 0.5, 0.4, 0.6, 0.5, 0.3, 0.4, 0.2, 0.3, 0.1, 0.2, 0.4, 0.3, 0.5, 0.4, 0.2, 0.3, 0.1, 0.0, 0.2, 0.1, -0.1, 0.0, 0.2, 0.1, -0.1, 0.0, 0.1, -0.1, 0.0, 0.1],
  [0, 0.1, 0.2, 0.4, 0.3, 0.5, 0.4, 0.6, 0.8, 0.7, 0.9, 0.8, 1.0, 1.1, 0.9, 1.0, 1.2, 1.1, 1.3, 1.2, 1.4, 1.3, 1.5, 1.4, 1.2, 1.3, 1.1, 1.2, 1.0, 1.1, 1.3, 1.2, 1.0, 1.1, 0.9, 1.0, 1.2, 1.1, 1.3, 1.2, 1.1],
  [0, 0.0, -0.1, 0.1, 0.0, 0.2, 0.1, -0.1, 0.0, -0.2, -0.1, -0.3, -0.2, -0.4, -0.3, -0.5, -0.4, -0.2, -0.3, -0.1, 0.0, -0.2, -0.1, 0.1, 0.0, 0.2, 0.1, -0.1, 0.0, -0.2, -0.1, 0.1, 0.0, -0.2, -0.1, -0.3, -0.2, 0.0, -0.1, -0.3, -0.2],
  [0, -0.1, -0.2, 0.0, -0.1, 0.1, 0.2, 0.0, 0.1, 0.3, 0.2, 0.4, 0.5, 0.3, 0.4, 0.6, 0.5, 0.7, 0.6, 0.4, 0.3, 0.5, 0.4, 0.2, 0.3, 0.1, 0.2, 0.4, 0.3, 0.5, 0.4, 0.2, 0.3, 0.1, 0.2, 0.4, 0.3, 0.5, 0.4, 0.2, 0.3],
  [0, -0.1, -0.2, -0.1, -0.3, -0.4, -0.3, -0.5, -0.4, -0.6, -0.7, -0.5, -0.6, -0.8, -0.9, -0.7, -0.8, -1.0, -1.1, -0.9, -1.0, -0.8, -0.9, -1.1, -1.0, -1.2, -1.3, -1.1, -1.2, -1.0, -1.1, -1.3, -1.2, -1.4, -1.3, -1.1, -1.2, -1.0, -1.1, -1.2, -1.1],
  [0, 0.1, 0.0, 0.2, 0.1, 0.0, 0.2, 0.3, 0.5, 0.4, 0.6, 0.7, 0.5, 0.6, 0.4, 0.5, 0.7, 0.6, 0.8, 0.9, 0.7, 0.6, 0.8, 0.7, 0.9, 1.1, 1.0, 1.2, 1.1, 0.9, 1.0, 0.8, 0.9, 1.1, 1.0, 0.8, 0.9, 1.0, 0.8, 0.9, 0.9],
  [0, -0.1, 0.0, -0.1, -0.3, -0.2, -0.1, -0.3, -0.2, -0.4, -0.5, -0.3, -0.4, -0.2, -0.3, -0.5, -0.6, -0.4, -0.5, -0.7, -0.6, -0.8, -0.7, -0.5, -0.6, -0.4, -0.5, -0.3, -0.4, -0.6, -0.5, -0.7, -0.8, -0.6, -0.7, -0.5, -0.6, -0.8, -0.7, -0.5, -0.6],
  [0, 0.2, 0.1, 0.3, 0.4, 0.3, 0.5, 0.6, 0.8, 0.7, 0.9, 1.0, 0.8, 0.9, 1.1, 1.0, 1.2, 1.3, 1.1, 1.2, 1.0, 1.1, 1.3, 1.2, 1.4, 1.3, 1.5, 1.4, 1.6, 1.5, 1.7, 1.6, 1.4, 1.5, 1.3, 1.4, 1.6, 1.5, 1.7, 1.6, 1.5],
  [0, 0.1, 0.2, 0.0, 0.1, -0.1, 0.0, -0.2, -0.1, 0.1, 0.0, -0.1, 0.1, 0.2, 0.0, 0.1, -0.1, 0.0, 0.2, 0.1, 0.3, 0.2, 0.0, 0.1, -0.1, -0.2, 0.0, -0.1, 0.1, 0.0, -0.2, -0.1, -0.3, -0.2, 0.0, -0.1, 0.1, 0.0, -0.2, -0.1, -0.1],
  [0, 0.0, 0.2, 0.1, 0.3, 0.2, 0.4, 0.3, 0.2, 0.0, 0.1, 0.3, 0.2, 0.4, 0.3, 0.5, 0.6, 0.4, 0.5, 0.3, 0.4, 0.2, 0.3, 0.5, 0.6, 0.8, 0.7, 0.9, 0.8, 0.6, 0.7, 0.5, 0.6, 0.8, 0.7, 0.5, 0.6, 0.7, 0.5, 0.6, 0.6],
  [0, -0.2, -0.1, -0.3, -0.2, -0.4, -0.5, -0.6, -0.5, -0.7, -0.8, -1.0, -0.9, -1.1, -1.0, -0.8, -0.9, -1.1, -1.2, -1.0, -1.1, -1.3, -1.2, -1.4, -1.3, -1.1, -1.2, -1.4, -1.5, -1.3, -1.4, -1.2, -1.3, -1.5, -1.4, -1.2, -1.3, -1.1, -1.2, -1.4, -1.3],
  [0, -0.1, 0.0, -0.2, -0.3, -0.1, -0.2, -0.4, -0.3, -0.5, -0.4, -0.2, -0.3, -0.1, -0.2, 0.0, 0.1, -0.1, 0.0, 0.2, 0.1, 0.3, 0.2, 0.0, 0.1, -0.1, 0.0, 0.2, 0.1, 0.3, 0.2, 0.4, 0.3, 0.1, 0.2, 0.0, 0.1, 0.3, 0.2, 0.1, 0.2],
  [0, 0.1, 0.3, 0.2, 0.4, 0.3, 0.1, 0.2, 0.4, 0.5, 0.7, 0.6, 0.8, 0.7, 0.5, 0.6, 0.4, 0.5, 0.7, 0.8, 1.0, 0.9, 1.1, 1.0, 1.2, 1.1, 0.9, 1.0, 0.8, 0.9, 1.1, 1.2, 1.0, 1.1, 1.3, 1.2, 1.0, 0.9, 1.1, 1.0, 1.0],
  [0, 0.1, 0.0, 0.2, 0.1, 0.3, 0.2, 0.1, -0.1, 0.0, -0.2, -0.1, -0.3, -0.2, -0.4, -0.3, -0.5, -0.6, -0.4, -0.5, -0.3, -0.4, -0.2, -0.3, -0.5, -0.4, -0.6, -0.5, -0.7, -0.6, -0.4, -0.3, -0.5, -0.4, -0.2, -0.3, -0.5, -0.4, -0.3, -0.5, -0.4],
  [0, 0.1, 0.0, 0.1, 0.3, 0.2, 0.3, 0.1, 0.2, 0.0, 0.1, -0.1, 0.0, 0.2, 0.1, 0.3, 0.2, 0.4, 0.3, 0.5, 0.6, 0.4, 0.5, 0.3, 0.4, 0.6, 0.5, 0.7, 0.6, 0.4, 0.5, 0.3, 0.4, 0.2, 0.3, 0.5, 0.4, 0.6, 0.5, 0.3, 0.4],
  [0, -0.1, -0.3, -0.2, -0.1, -0.3, -0.4, -0.2, -0.3, -0.5, -0.4, -0.6, -0.5, -0.7, -0.8, -0.6, -0.7, -0.5, -0.6, -0.8, -0.9, -0.7, -0.8, -0.6, -0.7, -0.9, -0.8, -1.0, -0.9, -0.7, -0.8, -0.6, -0.7, -0.9, -0.8, -0.6, -0.7, -0.5, -0.6, -0.8, -0.7],
  [0, 0.0, 0.2, 0.1, 0.3, 0.2, 0.4, 0.5, 0.3, 0.4, 0.6, 0.5, 0.7, 0.6, 0.8, 0.9, 0.7, 0.8, 1.0, 0.9, 1.1, 1.0, 1.2, 1.3, 1.1, 1.2, 1.4, 1.3, 1.1, 1.2, 1.0, 1.1, 1.3, 1.2, 1.4, 1.3, 1.1, 1.2, 1.3, 1.1, 1.2],
  [0, -0.1, 0.0, -0.2, -0.1, -0.3, -0.2, -0.4, -0.3, -0.1, -0.2, 0.0, -0.1, 0.1, 0.0, -0.2, -0.1, -0.3, -0.2, -0.4, -0.3, -0.1, -0.2, 0.0, 0.1, -0.1, 0.0, 0.2, 0.1, -0.1, 0.0, -0.2, -0.1, 0.1, 0.0, 0.2, 0.1, -0.1, 0.0, 0.1, 0.0],
  [0, 0.1, 0.2, 0.1, 0.3, 0.2, 0.0, 0.1, -0.1, 0.0, 0.2, 0.1, -0.1, -0.2, 0.0, -0.1, -0.3, -0.2, -0.4, -0.3, -0.5, -0.4, -0.6, -0.5, -0.3, -0.4, -0.2, -0.3, -0.1, -0.2, -0.4, -0.3, -0.5, -0.4, -0.2, -0.3, -0.1, -0.2, -0.4, -0.3, -0.3]
];
const bottomMean = [0, 0.01, 0.02, 0.02, 0.03, 0.04, 0.05, 0.06, 0.05, 0.07,
  0.08, 0.06, 0.07, 0.09, 0.1, 0.08, 0.07, 0.08, 0.07, 0.06,
  0.07, 0.08, 0.06, 0.05, 0.07, 0.06, 0.05, 0.06, 0.07, 0.06,
  0.08, 0.07, 0.05, 0.06, 0.05, 0.06, 0.07, 0.06, 0.08, 0.07,
  0.08];

const plotLeft = 61, plotRight = 647;

// bottom panel: the dense core is drawn heavier, stray outer paths stay thin
const bottomWidth = d => d3.max(d, v => Math.abs(v)) >= 1.8 ? 1 : 2;

const panels = [
  { top: 9, bottom: 200, yDomain: [-2, 2], yTicks: topYTicks, walkWidth: () => 1,
    paths: [topPathA, topPathB, topPathC, topPathD, topPathE], mean: topMean },
  { top: 278, bottom: 469, yDomain: [-4, 4], yTicks: bottomYTicks, walkWidth: bottomWidth,
    paths: bottomPaths, mean: bottomMean }
];

const svg = d3.select("#chart");
const x = d3.scaleLinear().domain([0, 1]).range([plotLeft, plotRight]);

panels.forEach((p, k) => {
  const y = d3.scaleLinear().domain(p.yDomain).range([p.bottom, p.top]);

  svg.append("clipPath").attr("id", "clip" + k)
    .append("rect")
    .attr("x", plotLeft).attr("y", p.top)
    .attr("width", plotRight - plotLeft).attr("height", p.bottom - p.top);

  // each series is evenly spread over [0, 1]
  const line = d3.line()
    .x((d, i, arr) => x(i / (arr.length - 1)))
    .y(d => y(d));

  const g = svg.append("g").attr("clip-path", `url(#clip${k})`);

  g.selectAll("path.walk")
    .data(p.paths)
    .join("path")
    .attr("class", "walk")
    .attr("d", line)
    .attr("fill", "none")
    .attr("stroke", "#0000ff")
    .attr("stroke-width", p.walkWidth)
    .attr("shape-rendering", "crispEdges");

  g.append("path")
    .datum(p.mean)
    .attr("d", line)
    .attr("fill", "none")
    .attr("stroke", "#ff0000")
    .attr("stroke-width", 3)
    .attr("stroke-linejoin", "round");

  // axes: inward ticks on all four sides (matlab box)
  const axisStyle = sel => {
    sel.select(".domain").attr("stroke", "#404040");
    sel.selectAll(".tick line").attr("stroke", "#404040");
    sel.selectAll(".tick text").attr("font-size", 16).attr("fill", "#262626")
      .attr("font-family", '"Liberation Sans", Arial, sans-serif');
  };

  svg.append("g")
    .attr("transform", `translate(0,${p.bottom})`)
    .call(d3.axisBottom(x).tickValues(xTicks).tickFormat((d, i) => xTickLabels[i])
      .tickSizeInner(-5).tickSizeOuter(0).tickPadding(8))
    .call(axisStyle);

  svg.append("g")
    .attr("transform", `translate(0,${p.top})`)
    .call(d3.axisTop(x).tickValues(xTicks).tickFormat("")
      .tickSizeInner(-5).tickSizeOuter(0))
    .call(axisStyle);

  svg.append("g")
    .attr("transform", `translate(${plotLeft},0)`)
    .call(d3.axisLeft(y).tickValues(p.yTicks).tickFormat(d3.format("d"))
      .tickSizeInner(-5).tickSizeOuter(0).tickPadding(7))
    .call(axisStyle);

  svg.append("g")
    .attr("transform", `translate(${plotRight},0)`)
    .call(d3.axisRight(y).tickValues(p.yTicks).tickFormat("")
      .tickSizeInner(-5).tickSizeOuter(0))
    .call(axisStyle);

  // axis titles
  svg.append("text")
    .attr("x", (plotLeft + plotRight) / 2)
    .attr("y", p.bottom + 42)
    .attr("text-anchor", "middle")
    .attr("font-size", 16)
    .text("Χρόνος");

  const cy = (p.top + p.bottom) / 2;
  svg.append("text")
    .attr("transform", `translate(26,${cy}) rotate(-90)`)
    .attr("text-anchor", "middle")
    .attr("font-size", 16)
    .text("Κίνηση Brown");

  // legend
  const ly = p.top + 24;
  svg.append("line")
    .attr("x1", 81).attr("x2", 135)
    .attr("y1", ly).attr("y2", ly)
    .attr("stroke", "#ff0000")
    .attr("stroke-width", 3);
  svg.append("text")
    .attr("x", 141).attr("y", ly)
    .attr("dy", "0.35em")
    .attr("font-size", 16)
    .text("Mean");
});
</script>
</body>
</html>
